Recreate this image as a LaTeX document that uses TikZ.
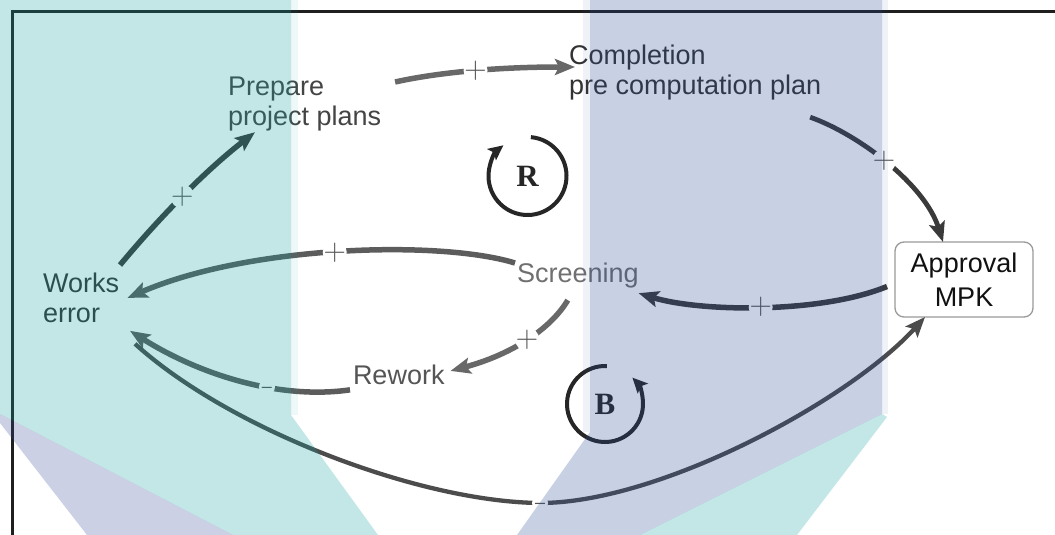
\RequirePackage{fix-cm}
\documentclass[tikz,border=0pt]{standalone}
\usepackage{fontspec}
\setmainfont{Liberation Sans}
\newfontfamily\loopfont{Liberation Serif}
\usetikzlibrary{arrows.meta}
\definecolor{lineA}{HTML}{3A3A3A}
\definecolor{lineB}{HTML}{686868}
\definecolor{lineC}{HTML}{4C4C4C}
\definecolor{lineD}{HTML}{5C5C5C}
\definecolor{txtA}{HTML}{444444}
\definecolor{txtB}{HTML}{707070}
\definecolor{txtC}{HTML}{333333}
\definecolor{txtD}{HTML}{555555}
\definecolor{txtE}{HTML}{111111}
\definecolor{signc}{HTML}{555555}
\definecolor{loopc}{HTML}{262626}
\definecolor{boxc}{HTML}{9A9A9A}
\definecolor{bandteal}{RGB}{19,163,159}
\definecolor{bandblue}{RGB}{39,75,151}
\definecolor{bandlav}{RGB}{55,71,155}
\begin{document}
\begin{tikzpicture}[x=1pt,y=-1pt,
  lbl/.style={inner sep=0pt,outer sep=0pt,anchor=north west,align=left,font=\fontsize{27}{30}\selectfont},
  box/.style={draw=boxc,line width=1.3pt,fill=white,rounded corners=9pt,minimum width=138pt,minimum height=75pt,inner sep=0pt,outer sep=0pt,align=center,text=txtE,font=\fontsize{27}{30}\selectfont},
  conn/.style={line width=5.5pt,-{Stealth[length=20pt,width=16pt,inset=4pt]}},
  plussign/.style={inner sep=0pt,outer sep=0pt,text=signc,font=\fontsize{31}{31}\selectfont},
  minussign/.style={inner sep=0pt,outer sep=0pt,text=signc,font=\fontsize{18}{18}\selectfont},
  loopline/.style={line width=4pt,draw=loopc,-{Stealth[length=15pt,width=14pt,inset=3pt]}},
  looplbl/.style={inner sep=0pt,outer sep=0pt,text=loopc,font=\loopfont\bfseries\fontsize{31}{31}\selectfont},
  band/.style={fill opacity=0.25,draw=none},
  faintband/.style={fill opacity=0.07,draw=none}
]
\fill[white] (0,0) rectangle (1055,535);
\useasboundingbox (0,0) rectangle (1055,535);

% border
\draw[line width=3pt,draw=black!88,line join=miter] (1055,11.3) -| (12.3,535);

% nodes
\node[lbl,text=txtC] (works) at (43,273) {Works\\error};
\node[lbl,text=txtA] (prep) at (228,77) {Prepare\\project plans};
\node[lbl,text=txtC] (comp) at (569,45) {Completion\\pre computation plan};
\node[lbl,text=txtB] (screen) at (517,263) {Screening};
\node[lbl,text=txtD] (rework) at (353,365) {Rework};
\node[box] (appr) at (964,279.5) {Approval\\[4pt]MPK};

% connectors
\draw[conn,lineA] ([shift={(1,-8)}]works.north east) .. controls (160,217) and (205,171) .. ([shift={(27,1)}]prep.south west) coordinate[pos=0.49] (p1);
\draw[conn,lineB] ([shift={(14,5)}]prep.north east) .. controls (440,72) and (500,67) .. ([shift={(6,22)}]comp.north west) coordinate[pos=0.51] (p2);
\draw[conn,lineA,line width=4.8pt] ([shift={(-11,17)}]comp.south east) .. controls (860,135) and (925,185) .. ([shift={(-21,0)}]appr.north) coordinate[pos=0.47] (p3);
\draw[conn,lineA] ([shift={(-8,7)}]appr.west) .. controls (820,314) and (700,312) .. ([shift={(0,5)}]screen.south east) coordinate[pos=0.5] (p4);
\draw[conn,lineD] ([shift={(-2,0)}]screen.north west) .. controls (440,240) and (250,245) .. ([shift={(8.5,0)}]works.east) coordinate[pos=0.51] (p5);
\draw[conn,lineB] ([shift={(-10,12)}]screen.south) .. controls (550,330) and (510,355) .. ([shift={(6,-4)}]rework.east) coordinate[pos=0.48] (p6);
\draw[conn,lineD] ([shift={(-3,5)}]rework.south west) .. controls (280,400) and (200,375) .. ([shift={(11,8)}]works.south east) coordinate[pos=0.38] (n1);
\draw[conn,lineC,line width=4.3pt] ([shift={(16,21)}]works.south east) .. controls (230,430) and (420,502) .. (540,503) coordinate (n2) .. controls (660,503) and (850,400) .. ([shift={(30,0)}]appr.south west);

% polarity signs
\foreach \p in {p1,p2,p3,p4,p5,p6} {\fill[white] (\p) circle (12);}
\foreach \p in {n1,n2} {\fill[white] (\p) circle (8);}
\node[plussign] (s1) at (p1) {$+$};
\node[plussign] (s2) at (p2) {$+$};
\node[plussign] (s3) at (p3) {$+$};
\node[plussign] (s4) at (p4) {$+$};
\node[plussign] (s5) at (p5) {$+$};
\node[plussign] (s6) at (p6) {$+$};
\node[minussign] (m1) at ([shift={(0,3)}]n1) {–};
\node[minussign] (m2) at ([shift={(0,3)}]n2) {–};

% loop markers
\node[looplbl] (rl) at (527.5,176) {R};
\node[looplbl] (bl) at (605,404) {B};
\begin{scope}[y=1pt]
\draw[loopline] ([shift={(85:39)}]rl.center) arc[start angle=85,end angle=-232,radius=39];
\draw[loopline] ([shift={(87:38)}]bl.center) arc[start angle=87,end angle=404,radius=38];
\end{scope}

% watermark bands
\fill[band,bandteal] (0,0) -- (291,0) -- (291,415) -- (378,535) -- (233,535) -- (0,414) -- cycle;
\fill[band,bandlav] (0,414) -- (233,535) -- (87,535) -- (0,423) -- cycle;
\fill[band,bandblue] (590,0) -- (882,0) -- (882,414) -- (640,535) -- (517,535) -- (590,432) -- cycle;
\fill[band,bandteal] (882,414) -- (887,417) -- (797,535) -- (640,535) -- cycle;
\fill[faintband,bandteal] (291,0) rectangle (298,415);
\fill[faintband,bandblue] (583,0) rectangle (590,432);
\fill[faintband,bandblue] (882,0) rectangle (888,414);
\end{tikzpicture}
\end{document}
